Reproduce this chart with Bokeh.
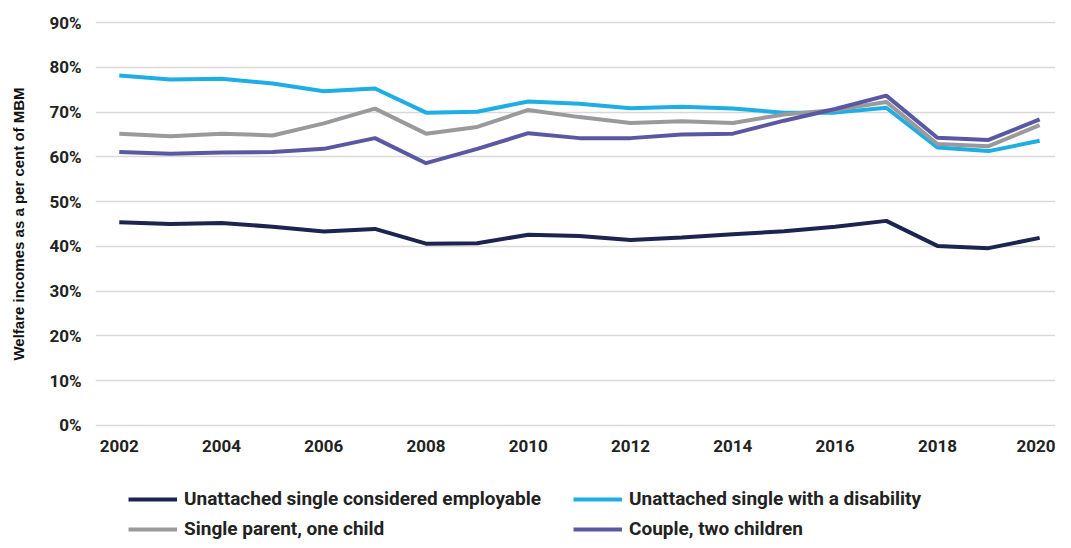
from bokeh.plotting import figure
from bokeh.layouts import column
from bokeh.models import Range1d, Legend, LegendItem, FixedTicker
from bokeh.embed import file_html
from bokeh.resources import INLINE

years = list(range(2002, 2021))
employable = [45.4, 45.0, 45.2, 44.4, 43.3, 43.9, 40.6, 40.7, 42.6, 42.3, 41.4, 42.0, 42.7, 43.4, 44.4, 45.7, 40.1, 39.6, 41.9]
disability = [78.2, 77.3, 77.5, 76.4, 74.7, 75.3, 69.9, 70.1, 72.4, 71.9, 70.9, 71.2, 70.8, 69.9, 69.9, 71.0, 62.1, 61.3, 63.6]
single_parent = [65.2, 64.6, 65.2, 64.8, 67.5, 70.8, 65.2, 66.7, 70.5, 68.9, 67.6, 68.0, 67.6, 69.5, 70.5, 72.3, 62.9, 62.4, 67.1]
couple = [61.1, 60.7, 61.0, 61.1, 61.8, 64.2, 58.6, 61.8, 65.3, 64.2, 64.2, 65.0, 65.2, 68.1, 70.7, 73.7, 64.3, 63.8, 68.4]

series_names = ["Unattached single considered employable", "Unattached single with a disability",
                "Single parent, one child", "Couple, two children"]
series_values = [employable, disability, single_parent, couple]
colors = ["#1b2550", "#1eaee4", "#9a9a9c", "#5b58a3"]
x_ticks = list(range(2002, 2021, 2))
y_ticks = [0, 10, 20, 30, 40, 50, 60, 70, 80, 90]

W = 1055
p = figure(width=W, height=460, output_backend="svg", toolbar_location=None,
           x_range=Range1d(2001.535, 2020.31), y_range=Range1d(-0.5, 90.5),
           min_border_left=95, min_border_right=0, min_border_top=20, min_border_bottom=33)
p.outline_line_color = None

for name, vals, c in zip(series_names, series_values, colors):
    p.line(years, vals, line_color=c, line_width=4)

p.xgrid.grid_line_color = None
p.ygrid.grid_line_color = "#d9d9d9"
p.ygrid.grid_line_width = 1.5
p.yaxis.ticker = FixedTicker(ticks=y_ticks)
p.xaxis.ticker = FixedTicker(ticks=x_ticks)
p.yaxis.major_label_overrides = {t: f"{t}%" for t in y_ticks}

for ax in (p.xaxis[0], p.yaxis[0]):
    ax.axis_line_color = None
    ax.major_tick_line_color = None
    ax.minor_tick_line_color = None
    ax.major_label_text_font = "Roboto"
    ax.major_label_text_font_style = "bold"
    ax.major_label_text_font_size = "17px"
    ax.major_label_text_color = "#222222"
p.xaxis.major_label_standoff = 6
p.yaxis.major_label_standoff = 8
p.yaxis.axis_label = "Welfare incomes as a per cent of MBM"
p.yaxis.axis_label_text_font = "Liberation Sans"
p.yaxis.axis_label_text_font_style = "bold"
p.yaxis.axis_label_text_font_size = "15px"
p.yaxis.axis_label_text_color = "#111111"
p.yaxis.axis_label_standoff = 19

# legend strip below the chart (its lines lie outside the strip's visible ranges)
p2 = figure(width=W, height=80, output_backend="svg", toolbar_location=None,
            x_range=Range1d(0, 1), y_range=Range1d(0, 1),
            x_axis_location=None, y_axis_location=None,
            min_border_left=95, min_border_right=0, min_border_top=0, min_border_bottom=0)
p2.outline_line_color = None
p2.xgrid.grid_line_color = None
p2.ygrid.grid_line_color = None
items = []
for name, vals, c in zip(series_names, series_values, colors):
    r = p2.line(years, vals, line_color=c, line_width=4)
    items.append(LegendItem(label=name, renderers=[r]))
legend = Legend(items=items, ncols=2, location=(33, 0), orientation="horizontal",
                glyph_width=49, glyph_height=22, label_height=22, label_standoff=7,
                spacing=7, label_width=382, padding=0, margin=0,
                border_line_color=None, background_fill_alpha=0,
                label_text_font="Roboto", label_text_font_style="bold",
                label_text_font_size="19px", label_text_color="#222222")
p2.add_layout(legend, "center")

layout = column(p, p2, spacing=0)
open("out.html", "w").write(file_html(layout, INLINE))
